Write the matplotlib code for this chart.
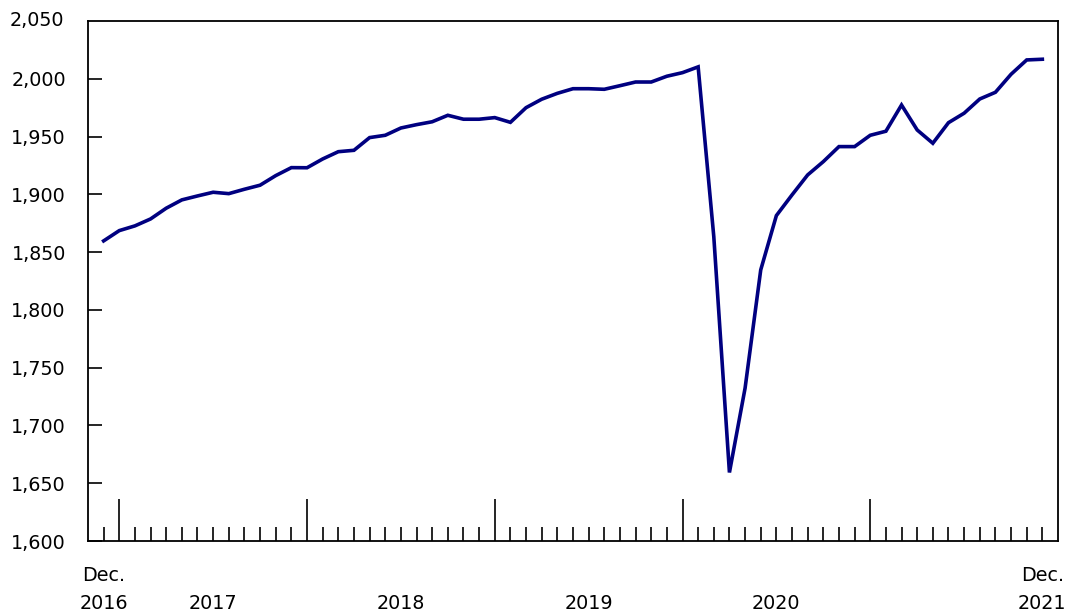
import numpy as np
import matplotlib.pyplot as plt
from matplotlib.ticker import FuncFormatter

# monthly values, Dec. 2016 to Dec. 2021
values = [1859.7, 1868.6, 1872.7, 1878.7, 1888.0, 1895.2, 1898.6, 1901.8, 1900.6, 1904.4,
          1907.9, 1916.2, 1923.1, 1923.0, 1930.6, 1936.9, 1938.1, 1949.1, 1951.1, 1957.4,
          1960.3, 1962.8, 1968.4, 1965.0, 1965.0, 1966.4, 1962.3, 1975.0, 1982.3, 1987.4,
          1991.4, 1991.4, 1990.9, 1994.0, 1997.2, 1997.2, 2002.2, 2005.3, 2010.3, 1863.4,
          1659.3, 1732.3, 1834.6, 1881.6, 1899.5, 1916.8, 1928.3, 1941.3, 1941.3, 1951.1,
          1954.6, 1977.3, 1955.7, 1944.2, 1962.0, 1970.2, 1982.5, 1988.3, 2003.9, 2016.3,
          2016.9]
year_labels = ["2016", "2017", "2018", "2019", "2020", "2021"]
year_pos = [0, 7, 19, 31, 43, 60]
dec_pos = [0, 60]
jan_pos = [1, 13, 25, 37, 49]
y_ticks = np.arange(1600, 2051, 50)

x = np.arange(len(values))

fig = plt.figure(figsize=(10.69, 6.12), dpi=100)
ax = fig.add_axes([0.0823, 0.116, 0.9074, 0.8497])
ax.plot(x, values, color="#000080", lw=2.6, solid_joinstyle="miter")

ax.set_xlim(-1, 61)
ax.set_ylim(1600, 2050)
ax.set_yticks(y_ticks[:-1])
ax.yaxis.set_major_formatter(FuncFormatter(lambda v, p: f"{int(v):,}"))
ax.tick_params(axis="y", direction="in", length=10, width=1.2, labelsize=13.8, pad=16)
# top label without a tick mark (spine sits there)
ax.text(-0.0245, 2050, "2,050", transform=ax.get_yaxis_transform(), ha="right",
        va="center", fontsize=13.8)

ax.set_xticks(jan_pos)
ax.set_xticks(x, minor=True)
ax.set_xticklabels([])
ax.tick_params(axis="x", which="major", direction="in", length=30, width=1.2)
ax.tick_params(axis="x", which="minor", direction="in", length=10, width=1.2)

for s in ax.spines.values():
    s.set_linewidth(1.3)

xt = ax.get_xaxis_transform()
for pos in dec_pos:
    ax.text(pos, -0.0654, "Dec.", transform=xt, ha="center", va="center", fontsize=13.8)
for pos, lab in zip(year_pos, year_labels):
    ax.text(pos, -0.121, lab, transform=xt, ha="center", va="center", fontsize=13.8)

fig.savefig("out.png", dpi=100)
